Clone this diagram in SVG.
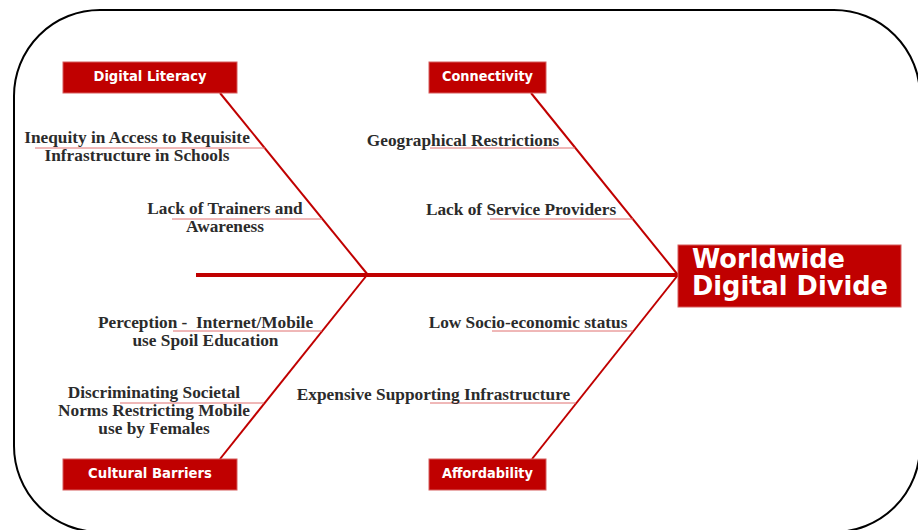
<svg xmlns="http://www.w3.org/2000/svg" width="918" height="530" viewBox="0 0 918 530">
  <style>
    .frame { fill: #ffffff; stroke: #000000; stroke-width: 2; }
    .box { fill: #c00000; stroke: #d65c5c; stroke-width: 1; }
    .hdr { font-family: "DejaVu Sans", Verdana, sans-serif; font-weight: bold; font-size: 13.5px; fill: #ffffff; text-anchor: middle; }
    .title { font-family: "DejaVu Sans", Verdana, sans-serif; font-weight: bold; font-size: 26px; fill: #ffffff; }
    .cause { font-family: "Liberation Serif", "Times New Roman", serif; font-weight: bold; font-size: 17.3px; fill: #2b2b2b; text-anchor: middle; }
    .spine { stroke: #c00000; stroke-width: 4; fill: none; }
    .bone { stroke: #c00000; stroke-width: 2; fill: none; }
    .rib { stroke: #e07070; stroke-width: 1; fill: none; }
  </style>

  <!-- outer rounded frame -->
  <rect class="frame" x="14" y="10" width="906" height="522" rx="86" ry="86"/>

  <!-- connectors: spine, category bones and cause ribs -->
  <g id="connectors">
    <line class="spine" x1="196" y1="275" x2="678" y2="275"/>
    <line class="bone" x1="220" y1="93" x2="368" y2="275"/>
    <line class="bone" x1="531" y1="93" x2="678" y2="275"/>
    <line class="bone" x1="220" y1="459" x2="367" y2="275"/>
    <line class="bone" x1="532" y1="459" x2="678" y2="275"/>

    <line class="rib" x1="35" y1="148" x2="265" y2="148"/>
    <line class="rib" x1="172" y1="219" x2="322" y2="219"/>
    <line class="rib" x1="430" y1="148" x2="575" y2="148"/>
    <line class="rib" x1="490" y1="219" x2="633" y2="219"/>
    <line class="rib" x1="173" y1="331" x2="322" y2="331"/>
    <line class="rib" x1="120" y1="403" x2="264" y2="403"/>
    <line class="rib" x1="492" y1="331" x2="633" y2="331"/>
    <line class="rib" x1="430" y1="403" x2="576" y2="403"/>
  </g>

  <!-- effect -->
  <g id="effect">
    <rect class="box" x="678" y="245" width="223" height="62"/>
    <text class="title" x="692" y="268" textLength="153" lengthAdjust="spacingAndGlyphs">Worldwide</text>
    <text class="title" x="692" y="295" textLength="196" lengthAdjust="spacingAndGlyphs">Digital Divide</text>
  </g>

  <!-- category headers -->
  <g id="digital-literacy">
    <rect class="box" x="63" y="62" width="174" height="31"/>
    <text class="hdr" x="150" y="81" textLength="113" lengthAdjust="spacingAndGlyphs">Digital Literacy</text>
  </g>
  <g id="connectivity">
    <rect class="box" x="429" y="62" width="117" height="31"/>
    <text class="hdr" x="487.5" y="81" textLength="91" lengthAdjust="spacingAndGlyphs">Connectivity</text>
  </g>
  <g id="cultural-barriers">
    <rect class="box" x="63" y="459" width="174" height="31"/>
    <text class="hdr" x="150" y="478" textLength="124" lengthAdjust="spacingAndGlyphs">Cultural Barriers</text>
  </g>
  <g id="affordability">
    <rect class="box" x="429" y="459" width="117" height="31"/>
    <text class="hdr" x="487.5" y="478" textLength="91" lengthAdjust="spacingAndGlyphs">Affordability</text>
  </g>

  <!-- causes -->
  <g id="cause-inequity">
    <text class="cause" x="137" y="143">Inequity in Access to Requisite</text>
    <text class="cause" x="137" y="161">Infrastructure in Schools</text>
  </g>
  <g id="cause-trainers">
    <text class="cause" x="225" y="214">Lack of Trainers and</text>
    <text class="cause" x="225" y="232">Awareness</text>
  </g>
  <g id="cause-geo">
    <text class="cause" x="463" y="146">Geographical Restrictions</text>
  </g>
  <g id="cause-providers">
    <text class="cause" x="521" y="215">Lack of Service Providers</text>
  </g>
  <g id="cause-perception">
    <text class="cause" x="205.5" y="328" xml:space="preserve">Perception -  Internet/Mobile</text>
    <text class="cause" x="205.5" y="346">use Spoil Education</text>
  </g>
  <g id="cause-norms">
    <text class="cause" x="154" y="398">Discriminating Societal</text>
    <text class="cause" x="154" y="416">Norms Restricting Mobile</text>
    <text class="cause" x="154" y="434">use by Females</text>
  </g>
  <g id="cause-socio">
    <text class="cause" x="528" y="328">Low Socio-economic status</text>
  </g>
  <g id="cause-infra">
    <text class="cause" x="433.5" y="400">Expensive Supporting Infrastructure</text>
  </g>
</svg>
